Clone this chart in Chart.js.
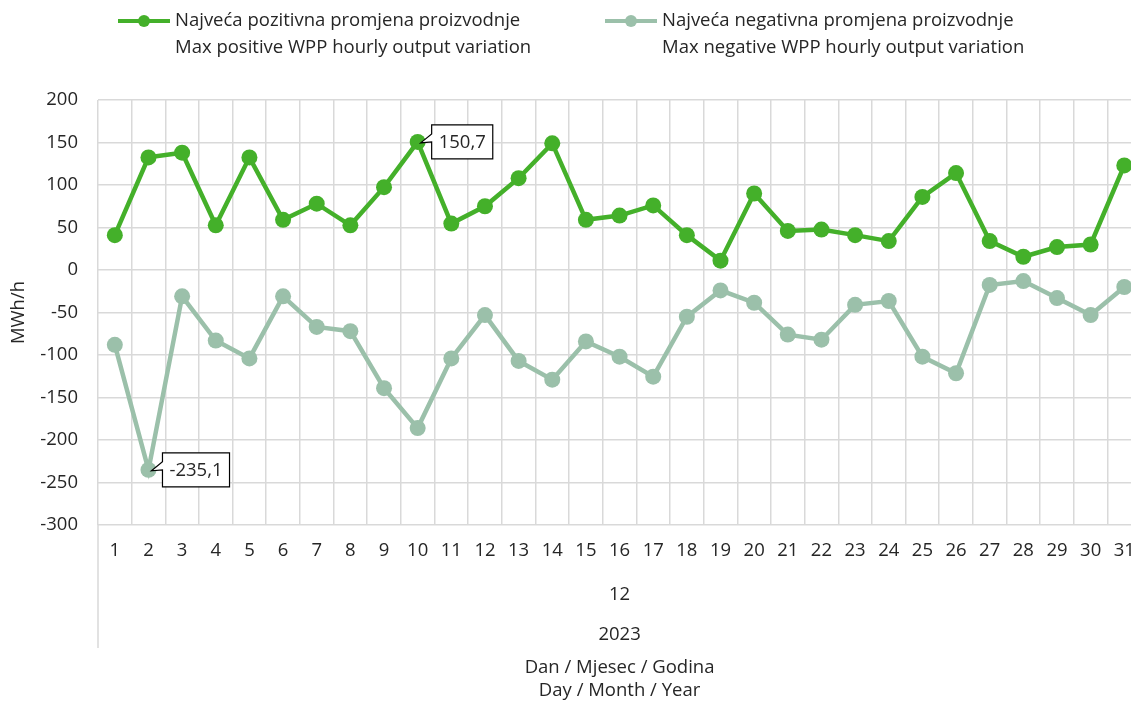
<!DOCTYPE html>
<html>
<head>
<meta charset="utf-8">
<script src="https://cdn.jsdelivr.net/npm/chart.js@4.4.0/dist/chart.umd.min.js"></script>
<style>
  html, body { margin: 0; padding: 0; overflow: hidden; background: #fff; }
  #wrap { width: 1150px; height: 701px; }
</style>
</head>
<body>
<div id="wrap"><canvas id="myChart" width="1150" height="701"></canvas></div>
<script>
// days of December 2023
const days = ['1','2','3','4','5','6','7','8','9','10','11','12','13','14','15','16','17','18','19','20','21','22','23','24','25','26','27','28','29','30','31'];
const maxPositive = [41, 132.5, 138, 52.6, 132.5, 59, 78, 52.6, 97.5, 150.7, 54.6, 75, 108, 149, 59, 64, 76, 41, 11, 90, 46, 47.6, 41, 34, 86, 114, 34, 15.6, 27, 30, 123];
const maxNegative = [-88, -235.1, -31, -83, -104, -31, -67, -72, -139, -186, -104, -53, -107, -129, -84, -102, -125.5, -55, -24, -38.5, -76, -82, -41, -36.5, -102, -121.5, -17.6, -13, -33, -53, -20];
const positiveLabel = ['Najveća pozitivna promjena proizvodnje', 'Max positive WPP hourly output variation'];
const negativeLabel = ['Najveća negativna promjena proizvodnje', 'Max negative WPP hourly output variation'];
const monthLabel = '12';
const yearLabel = '2023';
const xTitle = ['Dan / Mjesec / Godina', 'Day / Month / Year'];
const yTitle = 'MWh/h';
const yMin = -300, yMax = 200, yStep = 50;
// callouts: [dataset index, point index, text]
const callouts = [[0, 9, '150,7'], [1, 1, '-235,1']];

const FONT = "'Open Sans', sans-serif";
const SIZE = 18.5;
const txtColor = '#262626';
const gridColor = '#d9d9d9';

// legend drawn at the top, two lines per entry
const topLegend = {
  id: 'topLegend',
  afterDraw(chart) {
    const ctx = chart.ctx;
    const spots = [118, 605];
    ctx.save();
    chart.data.datasets.forEach((ds, i) => {
      const x = spots[i];
      ctx.strokeStyle = ds.borderColor;
      ctx.lineWidth = 4;
      ctx.beginPath();
      ctx.moveTo(x, 21);
      ctx.lineTo(x + 52, 21);
      ctx.stroke();
      ctx.fillStyle = ds.borderColor;
      ctx.beginPath();
      ctx.arc(x + 26, 21, 6, 0, Math.PI * 2);
      ctx.fill();
      ctx.fillStyle = txtColor;
      ctx.font = SIZE + 'px ' + FONT;
      ctx.textBaseline = 'middle';
      ctx.textAlign = 'left';
      ds.legendLines.forEach((t, k) => ctx.fillText(t, x + 57, 21 + k * 27));
    });
    ctx.restore();
  }
};

// data callouts and the multi level x axis
const extras = {
  id: 'extras',
  afterDraw(chart) {
    const ctx = chart.ctx;
    const area = chart.chartArea;
    ctx.save();
    callouts.forEach(([di, pi, text]) => {
      const pt = chart.getDatasetMeta(di).data[pi];
      const px = pt.x, py = pt.y;
      ctx.font = SIZE + 'px ' + FONT;
      const w = ctx.measureText(text).width + 14;
      const h = 34;
      const left = px + 14, top = py - 17;
      ctx.beginPath();
      ctx.moveTo(left, top);
      ctx.lineTo(left + w, top);
      ctx.lineTo(left + w, top + h);
      ctx.lineTo(left, top + h);
      ctx.lineTo(left, top + 17);
      ctx.lineTo(px + 3, py + 1);
      ctx.lineTo(left, top + 9);
      ctx.closePath();
      ctx.fillStyle = '#fff';
      ctx.fill();
      ctx.strokeStyle = '#000';
      ctx.lineWidth = 1.2;
      ctx.stroke();
      ctx.fillStyle = txtColor;
      ctx.textAlign = 'center';
      ctx.textBaseline = 'middle';
      ctx.fillText(text, left + w / 2, top + h / 2 + 1);
    });
    // group labels below the day ticks
    const cx = (area.left + area.right) / 2;
    ctx.fillStyle = txtColor;
    ctx.font = SIZE + 'px ' + FONT;
    ctx.textAlign = 'center';
    ctx.textBaseline = 'middle';
    ctx.fillText(monthLabel, cx, area.bottom + 70);
    ctx.fillText(yearLabel, cx, area.bottom + 110);
    ctx.fillText(xTitle[0], cx, area.bottom + 143);
    ctx.fillText(xTitle[1], cx, area.bottom + 166);
    ctx.strokeStyle = gridColor;
    ctx.lineWidth = 1.5;
    ctx.beginPath();
    ctx.moveTo(area.left, area.bottom);
    ctx.lineTo(area.left, area.bottom + 123);
    ctx.stroke();
    ctx.restore();
  }
};

new Chart(document.getElementById('myChart'), {
  type: 'line',
  data: {
    labels: days,
    datasets: [{
      label: positiveLabel[0],
      legendLines: positiveLabel,
      data: maxPositive,
      borderColor: '#44b02a',
      backgroundColor: '#44b02a',
      borderWidth: 4.5,
      pointRadius: 8,
      pointBorderWidth: 0,
      tension: 0
    }, {
      label: negativeLabel[0],
      legendLines: negativeLabel,
      data: maxNegative,
      borderColor: '#9bc0aa',
      backgroundColor: '#9bc0aa',
      borderWidth: 4.5,
      pointRadius: 8,
      pointBorderWidth: 0,
      tension: 0
    }]
  },
  options: {
    responsive: false,
    animation: false,
    events: [],
    layout: { padding: { top: 100, right: 0, bottom: 0, left: 0 } },
    plugins: {
      legend: { display: false },
      tooltip: { enabled: false }
    },
    scales: {
      x: {
        offset: true,
        grid: { offset: true, color: gridColor, lineWidth: 1.5, drawTicks: false },
        border: { display: false },
        ticks: { color: txtColor, font: { family: FONT, size: SIZE }, padding: 15, maxRotation: 0, autoSkip: false },
        afterFit(scale) { scale.height = 176; }
      },
      y: {
        min: yMin,
        max: yMax,
        grid: { color: gridColor, lineWidth: 1.5, drawTicks: false },
        border: { display: false },
        ticks: { stepSize: yStep, color: txtColor, font: { family: FONT, size: SIZE }, padding: 20 },
        title: { display: true, text: yTitle, color: txtColor, font: { family: FONT, size: SIZE }, padding: { top: 8, bottom: 0 } },
        afterFit(scale) { scale.width = 98; }
      }
    }
  },
  plugins: [topLegend, extras]
});
</script>
</body>
</html>
